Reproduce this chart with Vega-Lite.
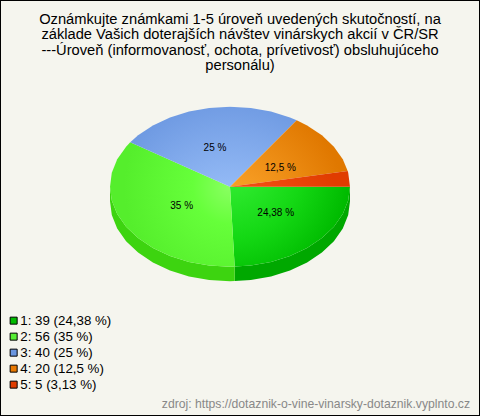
{"$schema":"https://vega.github.io/schema/vega-lite/v6.json","width":480,"height":416,"padding":0,"autosize":"none","background":"#f5f5ee","view":{"stroke":"#000000","strokeWidth":2,"fill":null},
"title":{"text":["Oznámkujte známkami 1-5 úroveň uvedených skutočností, na","základe Vašich doterajších návštev vinárskych akcií v ČR/SR","---Úroveň (informovanosť, ochota, prívetivosť) obsluhujúceho","personálu)"],"orient":"top","anchor":"middle","baseline":"top","offset":0,"dy":73,"font":"Liberation Sans","fontSize":14.7,"fontWeight":"normal","color":"#000000","lineHeight":15.5},
"datasets":{"faces":[
{"part":"s1","n":0,"x":120,"y":0},{"part":"s1","n":1,"x":118.2,"y":-13.9},{"part":"s1","n":2,"x":112.8,"y":-27.4},{"part":"s1","n":3,"x":103.9,"y":-40},{"part":"s1","n":4,"x":91.9,"y":-51.4},{"part":"s1","n":5,"x":77.1,"y":-61.3},{"part":"s1","n":6,"x":60,"y":-69.3},{"part":"s1","n":7,"x":41,"y":-75.2},{"part":"s1","n":8,"x":20.8,"y":-78.8},{"part":"s1","n":9,"x":4.7,"y":-79.9},{"part":"s1","n":10,"x":4.7,"y":-94.4},{"part":"s1","n":11,"x":20.8,"y":-93.3},{"part":"s1","n":12,"x":41,"y":-89.7},{"part":"s1","n":13,"x":60,"y":-83.8},{"part":"s1","n":14,"x":77.1,"y":-75.8},{"part":"s1","n":15,"x":91.9,"y":-65.9},{"part":"s1","n":16,"x":103.9,"y":-54.5},{"part":"s1","n":17,"x":112.8,"y":-41.9},{"part":"s1","n":18,"x":118.2,"y":-28.4},{"part":"s1","n":19,"x":120,"y":-14.5},
{"part":"s2","n":0,"x":4.7,"y":-79.9},{"part":"s2","n":1,"x":0,"y":-80},{"part":"s2","n":2,"x":-20.8,"y":-78.8},{"part":"s2","n":3,"x":-41,"y":-75.2},{"part":"s2","n":4,"x":-60,"y":-69.3},{"part":"s2","n":5,"x":-77.1,"y":-61.3},{"part":"s2","n":6,"x":-91.9,"y":-51.4},{"part":"s2","n":7,"x":-103.9,"y":-40},{"part":"s2","n":8,"x":-112.8,"y":-27.4},{"part":"s2","n":9,"x":-118.2,"y":-13.9},{"part":"s2","n":10,"x":-120,"y":0},{"part":"s2","n":11,"x":-120,"y":-14.5},{"part":"s2","n":12,"x":-118.2,"y":-28.4},{"part":"s2","n":13,"x":-112.8,"y":-41.9},{"part":"s2","n":14,"x":-103.9,"y":-54.5},{"part":"s2","n":15,"x":-91.9,"y":-65.9},{"part":"s2","n":16,"x":-77.1,"y":-75.8},{"part":"s2","n":17,"x":-60,"y":-83.8},{"part":"s2","n":18,"x":-41,"y":-89.7},{"part":"s2","n":19,"x":-20.8,"y":-93.3},{"part":"s2","n":20,"x":0,"y":-94.5},{"part":"s2","n":21,"x":4.7,"y":-94.4},
{"part":"t1","n":0,"x":0,"y":0},{"part":"t1","n":1,"x":120,"y":0},{"part":"t1","n":2,"x":118.2,"y":-13.9},{"part":"t1","n":3,"x":112.8,"y":-27.4},{"part":"t1","n":4,"x":103.9,"y":-40},{"part":"t1","n":5,"x":91.9,"y":-51.4},{"part":"t1","n":6,"x":77.1,"y":-61.3},{"part":"t1","n":7,"x":60,"y":-69.3},{"part":"t1","n":8,"x":41,"y":-75.2},{"part":"t1","n":9,"x":20.8,"y":-78.8},{"part":"t1","n":10,"x":4.7,"y":-79.9},
{"part":"t2","n":0,"x":0,"y":0},{"part":"t2","n":1,"x":4.7,"y":-79.9},{"part":"t2","n":2,"x":0,"y":-80},{"part":"t2","n":3,"x":-20.8,"y":-78.8},{"part":"t2","n":4,"x":-41,"y":-75.2},{"part":"t2","n":5,"x":-60,"y":-69.3},{"part":"t2","n":6,"x":-77.1,"y":-61.3},{"part":"t2","n":7,"x":-91.9,"y":-51.4},{"part":"t2","n":8,"x":-103.9,"y":-40},{"part":"t2","n":9,"x":-112.8,"y":-27.4},{"part":"t2","n":10,"x":-118.2,"y":-13.9},{"part":"t2","n":11,"x":-120,"y":0},{"part":"t2","n":12,"x":-118.2,"y":13.9},{"part":"t2","n":13,"x":-112.8,"y":27.4},{"part":"t2","n":14,"x":-103.9,"y":40},{"part":"t2","n":15,"x":-99.8,"y":44.4},
{"part":"t3","n":0,"x":0,"y":0},{"part":"t3","n":1,"x":-99.8,"y":44.4},{"part":"t3","n":2,"x":-91.9,"y":51.4},{"part":"t3","n":3,"x":-77.1,"y":61.3},{"part":"t3","n":4,"x":-60,"y":69.3},{"part":"t3","n":5,"x":-41,"y":75.2},{"part":"t3","n":6,"x":-20.8,"y":78.8},{"part":"t3","n":7,"x":0,"y":80},{"part":"t3","n":8,"x":20.8,"y":78.8},{"part":"t3","n":9,"x":41,"y":75.2},{"part":"t3","n":10,"x":60,"y":69.3},{"part":"t3","n":11,"x":66.7,"y":66.5},
{"part":"t4","n":0,"x":0,"y":0},{"part":"t4","n":1,"x":66.7,"y":66.5},{"part":"t4","n":2,"x":77.1,"y":61.3},{"part":"t4","n":3,"x":91.9,"y":51.4},{"part":"t4","n":4,"x":103.9,"y":40},{"part":"t4","n":5,"x":112.8,"y":27.4},{"part":"t4","n":6,"x":117.7,"y":15.6},
{"part":"t5","n":0,"x":0,"y":0},{"part":"t5","n":1,"x":117.7,"y":15.6},{"part":"t5","n":2,"x":118.2,"y":13.9},{"part":"t5","n":3,"x":120,"y":0}
],
"slices":[
{"cat":"1: 39 (24,38 %)","label":"24,38 %","x":45.7,"y":-26.3},
{"cat":"2: 56 (35 %)","label":"35 %","x":-48.3,"y":-19.3},
{"cat":"3: 40 (25 %)","label":"25 %","x":-15,"y":38.4},
{"cat":"4: 20 (12,5 %)","label":"12,5 %","x":50.3,"y":18.4},
{"cat":"5: 5 (3,13 %)","label":"","x":100,"y":5}
],
"source":[{"label":"zdroj: https://dotaznik-o-vine-vinarsky-dotaznik.vyplnto.cz","x":240,"y":-217.5}]},
"encoding":{"x":{"field":"x","type":"quantitative","scale":{"domain":[-230,250],"nice":false,"zero":false},"axis":null},"y":{"field":"y","type":"quantitative","scale":{"domain":[-229.3,186.7],"nice":false,"zero":false},"axis":null}},
"layer":[
{"data":{"name":"faces"},"transform":[{"filter":"datum.part=='s1'"}],"mark":{"type":"line","interpolate":"linear-closed","fill":"#00a800","strokeWidth":0},"encoding":{"order":{"field":"n","type":"quantitative"}}},
{"data":{"name":"faces"},"transform":[{"filter":"datum.part=='s2'"}],"mark":{"type":"line","interpolate":"linear-closed","fill":"#3dd410","strokeWidth":0},"encoding":{"order":{"field":"n","type":"quantitative"}}},
{"data":{"name":"faces"},"transform":[{"filter":"datum.part=='t1'"}],"mark":{"type":"line","interpolate":"linear-closed","strokeWidth":0,"fill":{"gradient":"radial","x1":0,"y1":0,"r1":0,"x2":0,"y2":0,"r2":1,"stops":[{"offset":0,"color":"#38f038"},{"offset":0.6,"color":"#14d814"},{"offset":1,"color":"#00bb00"}]}},"encoding":{"order":{"field":"n","type":"quantitative"}}},
{"data":{"name":"faces"},"transform":[{"filter":"datum.part=='t2'"}],"mark":{"type":"line","interpolate":"linear-closed","strokeWidth":0,"fill":{"gradient":"radial","x1":0.962,"y1":0.357,"r1":0,"x2":0.962,"y2":0.357,"r2":1,"stops":[{"offset":0,"color":"#8aff62"},{"offset":0.3,"color":"#66ff3a"},{"offset":0.85,"color":"#55ee2c"},{"offset":1,"color":"#55ee2c"}]}},"encoding":{"order":{"field":"n","type":"quantitative"}}},
{"data":{"name":"faces"},"transform":[{"filter":"datum.part=='t3'"}],"mark":{"type":"line","interpolate":"linear-closed","strokeWidth":0,"fill":{"gradient":"radial","x1":0.6,"y1":1,"r1":0,"x2":0.6,"y2":1,"r2":1,"stops":[{"offset":0,"color":"#a6caff"},{"offset":0.85,"color":"#6a96e0"},{"offset":1,"color":"#6a96e0"}]}},"encoding":{"order":{"field":"n","type":"quantitative"}}},
{"data":{"name":"faces"},"transform":[{"filter":"datum.part=='t4'"}],"mark":{"type":"line","interpolate":"linear-closed","strokeWidth":0,"fill":{"gradient":"radial","x1":0,"y1":1,"r1":0,"x2":0,"y2":1,"r2":1,"stops":[{"offset":0,"color":"#ffaa30"},{"offset":1,"color":"#e07800"}]}},"encoding":{"order":{"field":"n","type":"quantitative"}}},
{"data":{"name":"faces"},"transform":[{"filter":"datum.part=='t5'"}],"mark":{"type":"line","interpolate":"linear-closed","strokeWidth":0,"fill":{"gradient":"radial","x1":0,"y1":1,"r1":0,"x2":0,"y2":1,"r2":1,"stops":[{"offset":0,"color":"#ff5c20"},{"offset":1,"color":"#e03c00"}]}},"encoding":{"order":{"field":"n","type":"quantitative"}}},
{"data":{"name":"slices"},"mark":{"type":"point","filled":true,"opacity":0,"size":1},"encoding":{"color":{"field":"cat","type":"nominal","sort":null,"scale":{"range":["#00bb00","#55ee33","#6a96e0","#e87800","#e03c00"]},"legend":{"title":null,"orient":"none","legendX":7,"legendY":314,"symbolType":"square","symbolSize":49,"symbolOpacity":1,"symbolStrokeColor":"#000000","symbolStrokeWidth":1,"labelFont":"Liberation Sans","labelFontSize":13.3,"labelColor":"#000000","labelOffset":0,"rowPadding":2,"labelLimit":200}}}},
{"data":{"name":"slices"},"mark":{"type":"text","font":"Liberation Sans","fontSize":10,"color":"#000000"},"encoding":{"text":{"field":"label"}}},
{"data":{"name":"source"},"mark":{"type":"text","font":"Liberation Sans","fontSize":12.2,"color":"#888888","align":"right"},"encoding":{"text":{"field":"label"}}}
]}
